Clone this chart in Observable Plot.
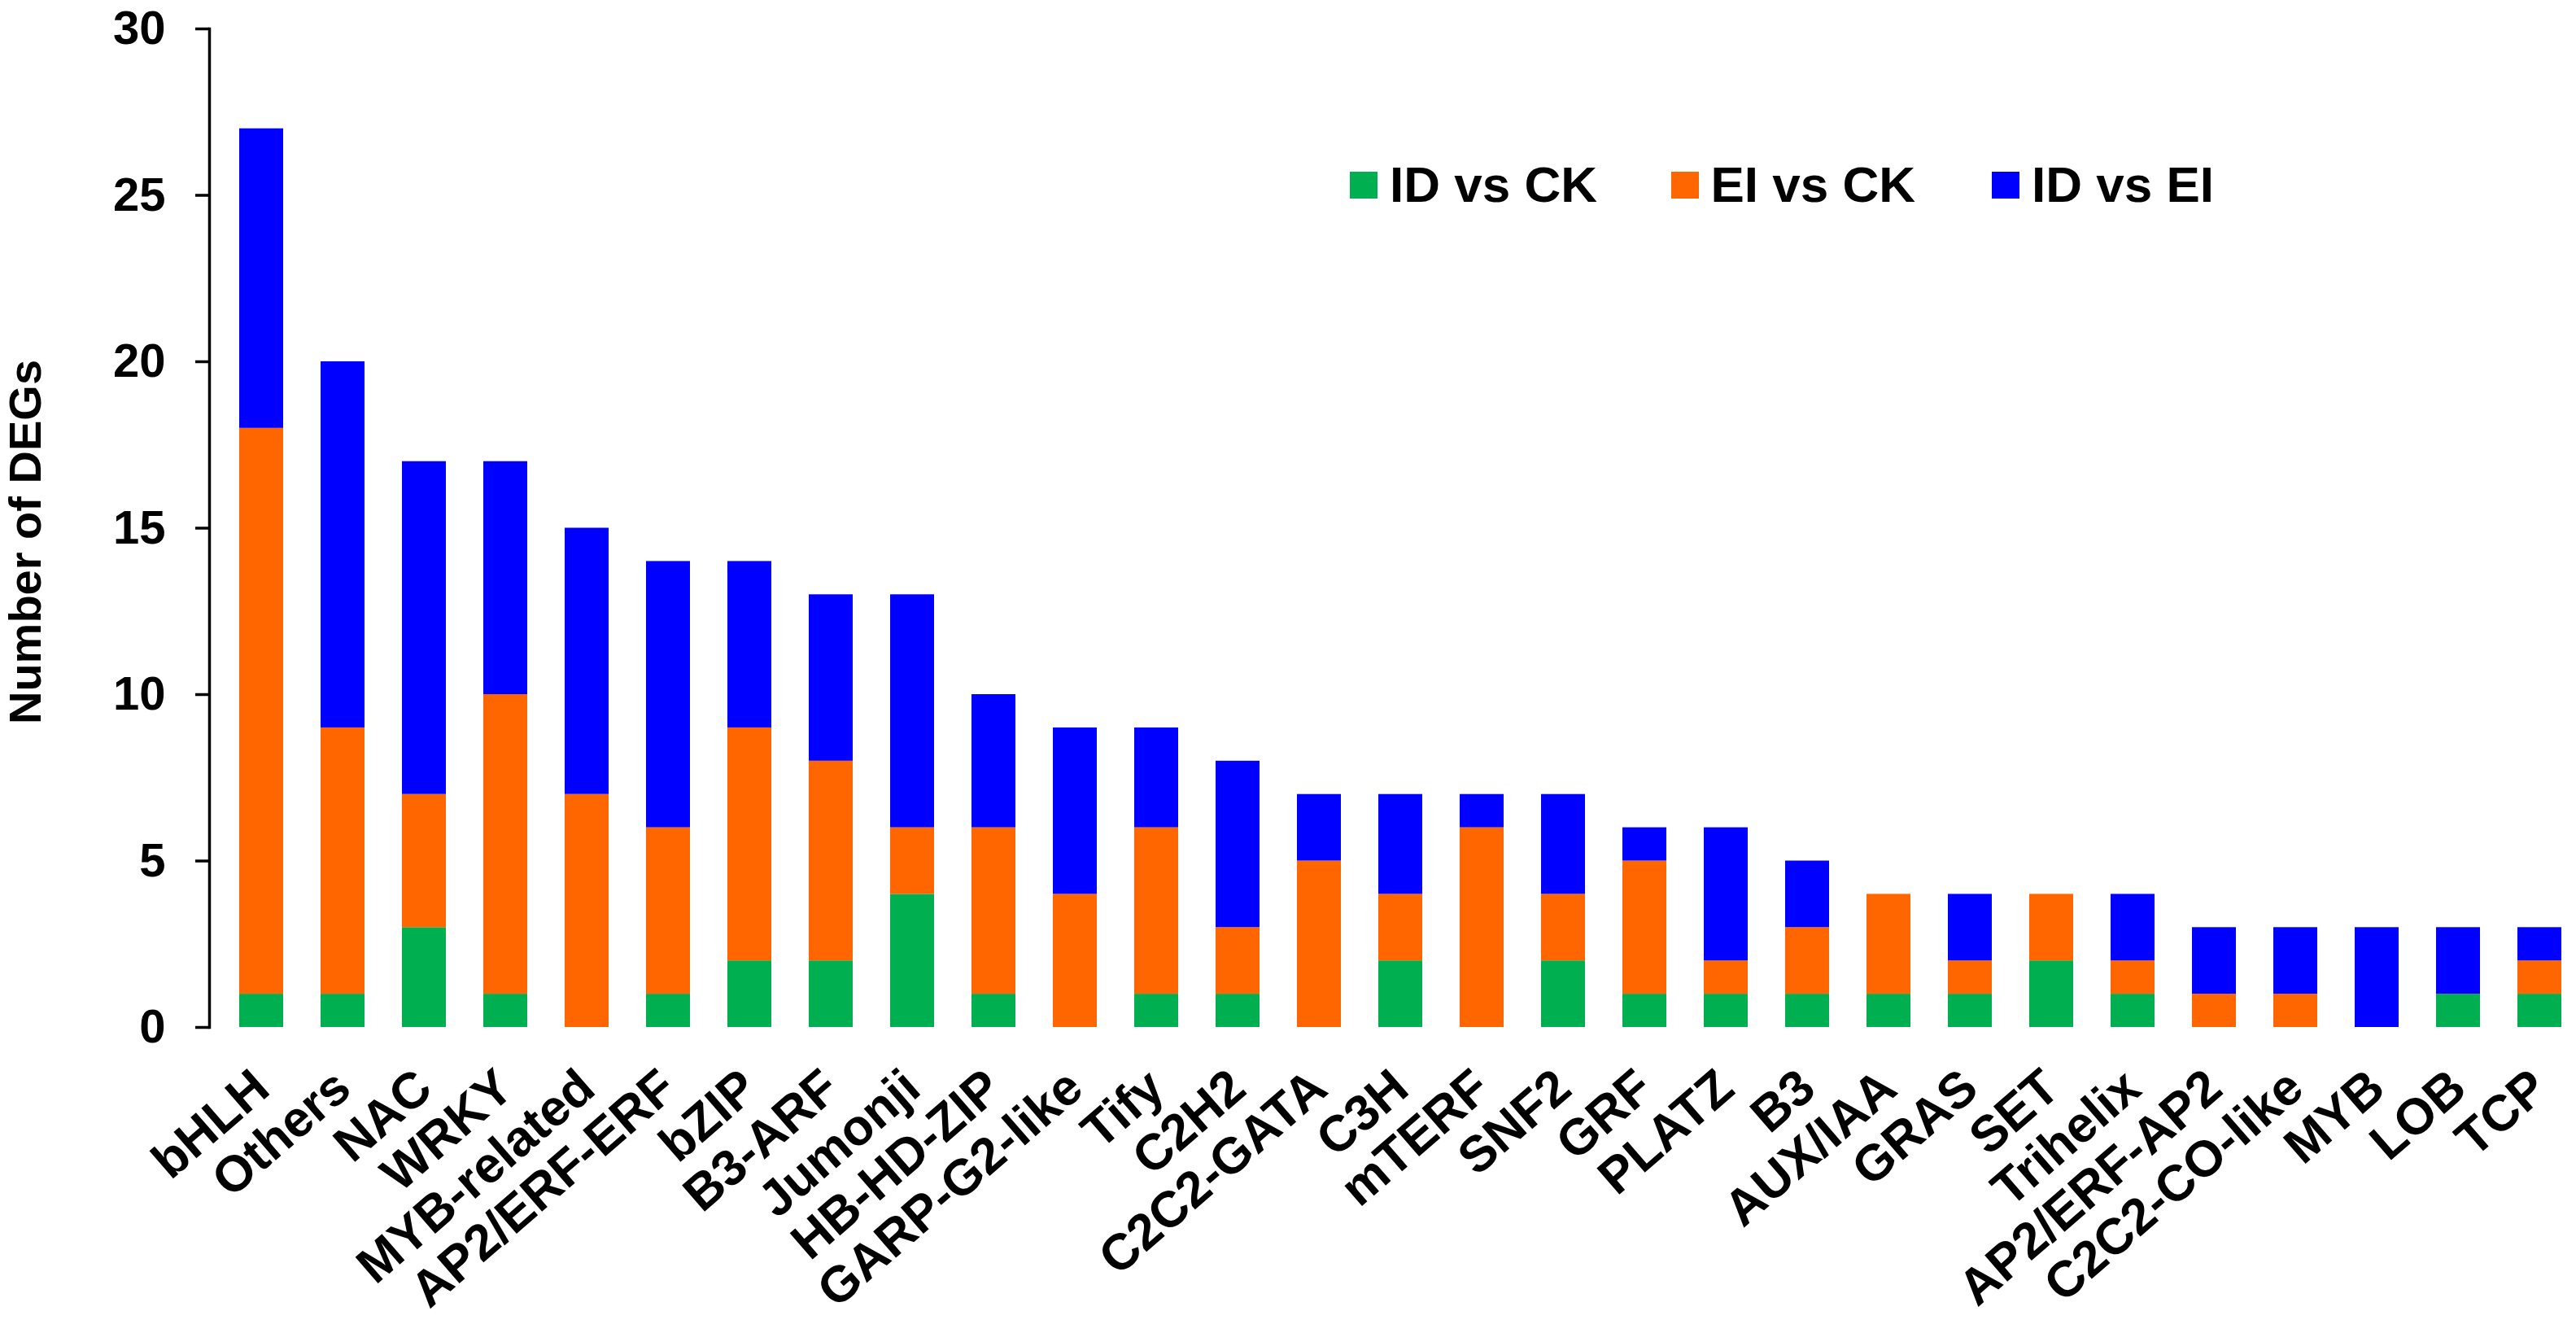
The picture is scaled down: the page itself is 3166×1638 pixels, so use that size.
<!DOCTYPE html>
<html>
<head>
<meta charset="utf-8">
<script src="https://cdn.jsdelivr.net/npm/d3@7"></script>
<script src="https://cdn.jsdelivr.net/npm/@observablehq/plot@0.6"></script>
<style>
  html, body { margin: 0; padding: 0; background: #fff; }
  #wrap { position: relative; width: 3166px; height: 1638px; font-family: "Liberation Sans", Arial, sans-serif; }
  #legend { position: absolute; left: 1659px; top: 196px; display: flex; }
  .item { width: 394.5px; display: flex; align-items: flex-start; font-weight: bold; font-size: 62px; line-height: 62px; color: #000; }
  .sw { width: 34px; height: 33px; margin-top: 15px; margin-right: 15px; flex: none; }
</style>
</head>
<body>
<div id="wrap"><div id="legend"></div></div>
<script>
const categories = ["bHLH","Others","NAC","WRKY","MYB-related","AP2/ERF-ERF","bZIP","B3-ARF","Jumonji","HB-HD-ZIP","GARP-G2-like","Tify","C2H2","C2C2-GATA","C3H","mTERF","SNF2","GRF","PLATZ","B3","AUX/IAA","GRAS","SET","Trihelix","AP2/ERF-AP2","C2C2-CO-like","MYB","LOB","TCP"];
const seriesNames = ["ID vs CK", "EI vs CK", "ID vs EI"];
const seriesColors = ["#00B050", "#FF6600", "#0000FF"];
const idVsCK = [1,1,3,1,0,1,2,2,4,1,0,1,1,0,2,0,2,1,1,1,1,1,2,1,0,0,0,1,1];
const eiVsCK = [17,8,4,9,7,5,7,6,2,5,4,5,2,5,2,6,2,4,1,2,3,1,2,1,1,1,0,0,1];
const idVsEI = [9,11,10,7,8,8,5,5,7,4,5,3,5,2,3,1,3,1,4,2,0,2,0,2,2,2,3,2,1];
const yTicks = [0,5,10,15,20,25,30];
const yLabel = "Number of DEGs";

const seriesValues = [idVsCK, eiVsCK, idVsEI];
const rows = [];
categories.forEach((c, i) => {
  seriesNames.forEach((s, j) => rows.push({category: c, series: s, value: seriesValues[j][i]}));
});

const font = "Liberation Sans, Arial, sans-serif";
const chart = Plot.plot({
  width: 3166,
  height: 1638,
  marginTop: 35,
  marginBottom: 376,
  marginLeft: 257,
  marginRight: 0,
  style: {fontFamily: font, fontWeight: "bold", background: "#fff", color: "#000"},
  x: {type: "band", domain: categories, range: [259.6, 3182.8], paddingInner: 0.46, paddingOuter: 0.23},
  y: {domain: [0, 30]},
  color: {domain: seriesNames, range: seriesColors},
  marks: [
    Plot.barY(rows, {x: "category", y: "value", fill: "series"}),
    Plot.frame({anchor: "left", stroke: "#000", strokeWidth: 3.5}),
    Plot.axisY({ticks: yTicks, tickSize: 17, tickPadding: 37, strokeWidth: 3.5, fontSize: 58, fontWeight: "bold", label: null, fill: "#000"}),
    Plot.axisX({tickSize: 0, tickPadding: 65, tickRotate: -41, fontSize: 62, fontWeight: "bold", label: null, fill: "#000"}),
    Plot.text([yLabel], {text: d => d, frameAnchor: "left", textAnchor: "middle", lineAnchor: "middle", rotate: -90, dx: -225, dy: 17, fontSize: 56, fontWeight: "bold", fill: "#000"})
  ]
});
document.getElementById("wrap").prepend(chart);

const legend = document.getElementById("legend");
seriesNames.forEach((s, j) => {
  const it = document.createElement("div");
  it.className = "item";
  const sw = document.createElement("div");
  sw.className = "sw";
  sw.style.background = seriesColors[j];
  const t = document.createElement("span");
  t.textContent = s;
  it.appendChild(sw); it.appendChild(t);
  legend.appendChild(it);
});
</script>
</body>
</html>
